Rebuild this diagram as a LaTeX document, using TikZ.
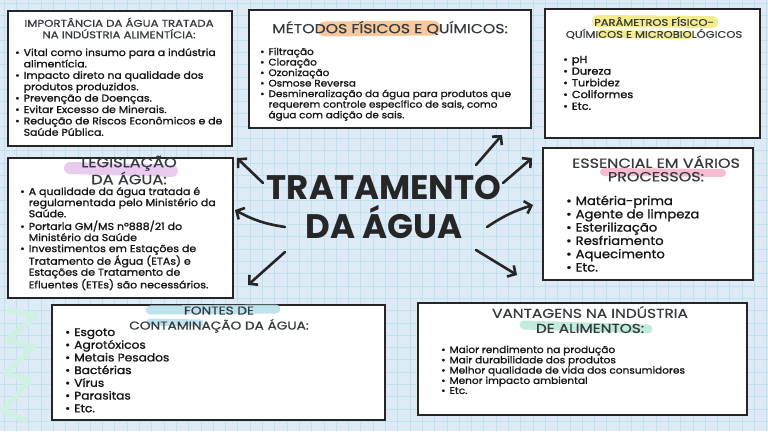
\documentclass[tikz,border=0pt]{standalone}
\usepackage{fontspec}
\setmainfont{Poppins}
\newfontfamily\hand[FakeStretch=1.1,FakeBold=1.2]{Poppins}
\newfontfamily\capsf[FakeStretch=1.2,FakeBold=0.6]{Poppins}
\usetikzlibrary{arrows.meta}
\definecolor{bgc}{HTML}{DEEAF6}
\definecolor{gridc}{HTML}{BEE3EE}
\definecolor{ink}{HTML}{151515}
\definecolor{tcol}{HTML}{353A40}
\definecolor{bord}{HTML}{262626}
\definecolor{hlorange}{HTML}{F6C391}
\definecolor{hlyellow}{HTML}{F3EA80}
\definecolor{hllilac}{HTML}{E6C6EE}
\definecolor{hlpink}{HTML}{F4B6CA}
\definecolor{hlblue}{HTML}{B7E1EA}
\definecolor{hlmint}{HTML}{BDE9D8}
\definecolor{zig}{HTML}{CFF1E2}
\newcommand\mybul{\textbullet}
\tikzset{
  box/.style={draw=bord, line width=2.6pt, fill=white, inner sep=0pt},
  body/.style 2 args={font=\hand\fontsize{#1}{#2}\selectfont, anchor=base west, inner sep=0pt, text=ink},
  ttl/.style 2 args={font=\capsf\fontsize{#1}{#2}\selectfont, text=tcol, align=center, inner sep=0pt},
  hl/.style={line width=#1, line cap=round, opacity=0.9},
  arr/.style={draw=bord, line width=2.6pt, line cap=round, line join=round,
    -{Straight Barb[length=6pt,width=13pt,line width=2.6pt]}},
}
\begin{document}
\begin{tikzpicture}[x=1pt,y=-1pt]
\useasboundingbox (0,0) rectangle (768,431);
% background grid
\fill[bgc] (0,0) rectangle (768,431);
\foreach \i in {0,...,63} { \draw[gridc, line width=0.6pt] (\i*12.3+4,0) -- (\i*12.3+4,431); }
\foreach \j in {0,...,35} { \draw[gridc, line width=0.6pt] (0,\j*12.3+3) -- (768,\j*12.3+3); }
\draw[zig, line width=5pt, line join=round, line cap=round] (8,310) -- (36,315) -- (7,340) -- (34,347) -- (5,373) -- (30,380) -- (3,410) -- (25,420);

% boxes
\node[box, minimum width=224pt, minimum height=135pt] (b1) at (120,78.5) {};
\node[box, minimum width=282pt, minimum height=118pt] (b2) at (390,69) {};
\node[box, minimum width=215pt, minimum height=129pt] (b3) at (652.5,73.5) {};
\node[box, minimum width=225pt, minimum height=140pt] (b4) at (120.5,228) {};
\node[box, minimum width=210pt, minimum height=132pt] (b5) at (648,214) {};
\node[box, minimum width=333pt, minimum height=115pt] (b6) at (218.5,362.5) {};
\node[box, minimum width=329pt, minimum height=112pt] (b7) at (582.5,359) {};

% highlights
\draw[hlorange, hl=15pt] (325,29) -- (433,28);
\draw[hlyellow, hl=12pt] (598,21) -- (712,22);
\draw[hlyellow, hl=8pt] (600,34) -- (690,35);
\draw[hllilac, hl=12pt] (70,168) -- (172,171);
\draw[hlpink, hl=8pt] (604,172) -- (722,173);
\draw[hlblue, hl=9pt] (150,310) -- (276,309);
\draw[hlblue, hl=7pt] (150,322) -- (200,323);
\draw[hlmint, hl=9pt] (524,325) -- (648,329);

% titles
\node[ttl={9.8}{11.5}] (h1) at (119,28) {IMPORTÂNCIA DA ÁGUA TRATADA\\NA INDÚSTRIA ALIMENTÍCIA:};
\node[ttl={13.1}{14}] (h2) at (390,28) {MÉTODOS FÍSICOS E QUÍMICOS:};
\node[ttl={9.6}{12}] (h3) at (654,28) {PARÂMETROS FÍSICO-\\QUÍMICOS E MICROBIOLÓGICOS};
\node[ttl={13.5}{15.5}] (h4) at (129,170) {LEGISLAÇÃO\\DA ÁGUA:};
\node[ttl={13.3}{13.5}] (h5) at (656,168.5) {ESSENCIAL EM VÁRIOS\\PROCESSOS:};
\node[ttl={11.4}{15}] (h6) at (219,319.5) {FONTES DE\\CONTAMINAÇÃO DA ÁGUA:};
\node[ttl={12.8}{15}] (h7) at (590,319.5) {VANTAGENS NA INDÚSTRIA\\DE ALIMENTOS:};

% bodies
\node[body={9.9}{11.4}] (t1) at (15,56) {\begin{tabular}[t]{@{}l@{\hspace{4pt}}l@{}}
\mybul & Vital como insumo para a indústria\\ & alimentícia.\\
\mybul & Impacto direto na qualidade dos\\ & produtos produzidos.\\
\mybul & Prevenção de Doenças.\\
\mybul & Evitar Excesso de Minerais.\\
\mybul & Redução de Riscos Econômicos e de\\ & Saúde Pública.\end{tabular}};
\node[body={9.5}{10.5}] (t2) at (260,55) {\begin{tabular}[t]{@{}l@{\hspace{4pt}}l@{}}
\mybul & Filtração\\
\mybul & Cloração\\
\mybul & Ozonização\\
\mybul & Osmose Reversa\\
\mybul & Desmineralização da água para produtos que\\ & requerem controle específico de sais, como\\ & água com adição de sais.\end{tabular}};
\node[body={10.3}{11.7}] (t3) at (563,63) {\begin{tabular}[t]{@{}l@{\hspace{4pt}}l@{}}
\mybul & pH\\
\mybul & Dureza\\
\mybul & Turbidez\\
\mybul & Coliformes\\
\mybul & Etc.\end{tabular}};
\node[body={10}{11}] (t4) at (20,195) {\begin{tabular}[t]{@{}l@{\hspace{4pt}}l@{}}
\mybul & A qualidade da água tratada é\\ & regulamentada pelo Ministério da\\ & Saúde.\\
\mybul & Portaria GM/MS nº888/21 do\\ & Ministério da Saúde\\
\mybul & Investimentos em Estações de\\ & Tratamento de Água (ETAs) e\\ & Estações de Tratamento de\\ & Efluentes (ETEs) são necessários.\end{tabular}};
\node[body={12}{13.3}] (t5) at (566,205) {\begin{tabular}[t]{@{}l@{\hspace{4pt}}l@{}}
\mybul & Matéria-prima\\
\mybul & Agente de limpeza\\
\mybul & Esterilização\\
\mybul & Resfriamento\\
\mybul & Aquecimento\\
\mybul & Etc.\end{tabular}};
\node[body={11.1}{12.7}] (t6) at (65,336) {\begin{tabular}[t]{@{}l@{\hspace{4pt}}l@{}}
\mybul & Esgoto\\
\mybul & Agrotóxicos\\
\mybul & Metais Pesados\\
\mybul & Bactérias\\
\mybul & Vírus\\
\mybul & Parasitas\\
\mybul & Etc.\end{tabular}};
\node[body={9.6}{10}] (t7) at (441,353) {\begin{tabular}[t]{@{}l@{\hspace{4pt}}l@{}}
\mybul & Maior rendimento na produção\\
\mybul & Mair durabilidade dos produtos\\
\mybul & Melhor qualidade de vida dos consumidores\\
\mybul & Menor impacto ambiental\\
\mybul & Etc.\end{tabular}};

% center title
\node[font=\bfseries\fontsize{34}{39}\selectfont, text=bord, align=center, inner sep=0pt] (c) at (384,207) {TRATAMENTO\\DA ÁGUA};

% arrows
\coordinate (s1) at (476,165); \coordinate (e1) at (502,135);
\coordinate (s2) at (503,183); \coordinate (e2) at (532,158);
\coordinate (s3) at (487,227); \coordinate (e3) at (533,205);
\coordinate (s4) at (476,250); \coordinate (e4) at (517,275);
\coordinate (s5) at (263,183); \coordinate (e5) at (237,158);
\coordinate (s6) at (285,227); \coordinate (e6) at (235,210);
\coordinate (s7) at (285,252); \coordinate (e7) at (248,285);
\draw[arr] (s1) -- (e1);
\draw[arr] (s2) -- (e2);
\draw[arr] (s3) to[bend left=8] (e3);
\draw[arr] (s4) -- (e4);
\draw[arr] (s5) -- (e5);
\draw[arr] (s6) to[bend left=10] (e6);
\draw[arr] (s7) -- (e7);
\end{tikzpicture}
\end{document}
